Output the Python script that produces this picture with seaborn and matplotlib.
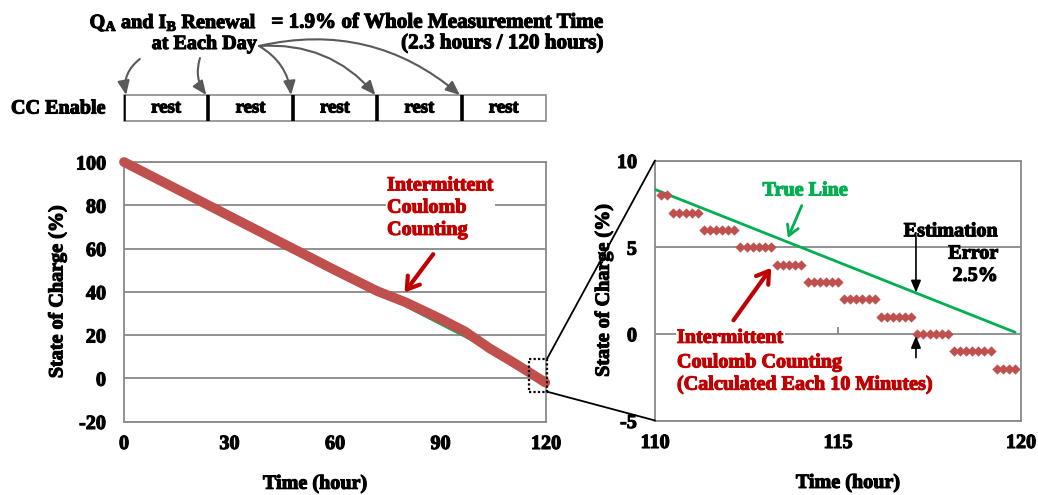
import numpy as np
import pandas as pd
import matplotlib
matplotlib.use("Agg")
import matplotlib.pyplot as plt
import matplotlib.patheffects as pe
import matplotlib.text as mtext
import seaborn as sns
from matplotlib.patches import Rectangle, ConnectionPatch

# ---------------- data ----------------
# whole test (left panel)
true_t = [0, 30, 60, 90, 110, 119.84]
true_soc = [100, 75, 50, 25, 8.33, 0.09]
cc_t = [0, 30, 60, 72, 80, 90, 97, 104, 110, 115, 119.8]
cc_soc = [100, 75, 50, 40.3, 35.2, 27.5, 21.6, 13.8, 8.0, 3.0, -2.0]

# zoomed window (right panel)
zoom_true_t = [110, 119.84]
zoom_true_soc = [8.33, 0.09]
step_levels = [8, 7, 6, 5, 4, 3, 2, 1, 0, -1, -2]
step_counts = [2, 5, 6, 6, 5, 6, 6, 6, 6, 7, 4]
sample_minutes = np.arange(1, 60) * 10          # every 10 minutes after 110 h
zoom_cc_t = 110 + sample_minutes / 60.0
zoom_cc_soc = np.repeat(step_levels, step_counts)

day_starts = [0, 24, 48, 72, 96]
day_labels = ["rest"] * 5

left_xticks = [0, 30, 60, 90, 120]
left_yticks = [-20, 0, 20, 40, 60, 80, 100]
right_xticks = [110, 115, 120]
right_yticks = [-5, 0, 5, 10]

# ---------------- style ----------------
sns.set_theme(style="white")
plt.rcParams["font.family"] = ["Liberation Serif", "DejaVu Serif"]
plt.rcParams["font.weight"] = "bold"
plt.rcParams["axes.unicode_minus"] = False
plt.rcParams["mathtext.fontset"] = "custom"
plt.rcParams["mathtext.rm"] = "Liberation Serif:bold"
plt.rcParams["mathtext.bf"] = "Liberation Serif:bold"
plt.rcParams["mathtext.it"] = "Liberation Serif:bold:italic"
for k in ["text.color", "axes.labelcolor", "xtick.color", "ytick.color"]:
    plt.rcParams[k] = "black"

RED = "#C0504D"
DARKRED = "#C00000"
GREEN = "#00B050"
GRAY = "#898989"
FS = 14.5

W, H = 1038, 495
fig = plt.figure(figsize=(W / 100, H / 100), dpi=100)


def box(x0, y0, x1, y1):
    return [x0 / W, 1 - y1 / H, (x1 - x0) / W, (y1 - y0) / H]


ax1 = fig.add_axes(box(124, 162, 546, 421.5))
ax2 = fig.add_axes(box(655, 160.5, 1021, 420.5))
ax0 = fig.add_axes(box(124, 0, 546, 125))

# ---------------- left panel ----------------
df_true = pd.DataFrame({"t": true_t, "soc": true_soc})
df_cc = pd.DataFrame({"t": cc_t, "soc": cc_soc})
sns.lineplot(data=df_true, x="t", y="soc", ax=ax1, color=GREEN, lw=1.6, zorder=3)
sns.lineplot(data=df_cc, x="t", y="soc", ax=ax1, color=RED, lw=7,
             solid_capstyle="round", zorder=4, clip_on=False)
ax1.set_xlim(0, 120)
ax1.set_ylim(-20, 100)
ax1.set_xticks(left_xticks)
ax1.set_yticks(left_yticks)
ax1.grid(axis="y", color=GRAY, lw=1.3)
ax1.grid(axis="x", visible=False)
ax1.set_axisbelow(True)
for s in ax1.spines.values():
    s.set_color(GRAY)
    s.set_linewidth(1.3)
ax1.tick_params(axis="both", length=0, labelsize=FS)
ax1.tick_params(axis="x", pad=9)
ax1.tick_params(axis="y", pad=13)
for lab in ax1.get_xticklabels() + ax1.get_yticklabels():
    lab.set_fontweight("bold")
ax1.set_xlabel("Time (hour)", fontsize=FS, fontweight="bold", va="center")
ax1.set_ylabel("State of Charge (%)", fontsize=FS, fontweight="bold", va="center")
ax1.xaxis.set_label_coords(0.4526, -0.24)
ax1.yaxis.set_label_coords(-0.158, 0.5)

ax1.annotate("", xy=(79.3, 38.6), xytext=(88.4, 58.4),
             arrowprops=dict(arrowstyle="->,head_length=0.7,head_width=0.45",
                             color=DARKRED, lw=3), zorder=6)
ax1.text(74.8, 93.8, "Intermittent\nCoulomb\nCounting", color=DARKRED,
         fontsize=FS, fontweight="bold", ha="left", va="top", linespacing=1.15,
         bbox=dict(facecolor="white", edgecolor="none", pad=1), zorder=5)

# dotted zoom box
zr = Rectangle((115.2, -6.2), 5.1, 15.2, fill=False, ls=(0, (1, 1)), lw=1.6,
               edgecolor="black", clip_on=False, zorder=7)
ax1.add_patch(zr)

# ---------------- right panel ----------------
df_zt = pd.DataFrame({"t": zoom_true_t, "soc": zoom_true_soc})
df_zc = pd.DataFrame({"t": zoom_cc_t, "soc": zoom_cc_soc})
sns.lineplot(data=df_zt, x="t", y="soc", ax=ax2, color=GREEN, lw=2, zorder=3)
sns.scatterplot(data=df_zc, x="t", y="soc", ax=ax2, marker="D", s=24,
                color=RED, edgecolor=RED, linewidth=0.3, zorder=4)
ax2.set_xlim(110, 120)
ax2.set_ylim(-5, 10)
ax2.set_xticks(right_xticks)
ax2.set_yticks(right_yticks)
ax2.grid(axis="y", color=GRAY, lw=1.3)
ax2.grid(axis="x", visible=False)
ax2.set_axisbelow(True)
for s in ax2.spines.values():
    s.set_color(GRAY)
    s.set_linewidth(1.3)
ax2.tick_params(axis="both", length=0, labelsize=FS)
ax2.tick_params(axis="x", pad=9)
ax2.tick_params(axis="y", pad=13)
for lab in ax2.get_xticklabels() + ax2.get_yticklabels():
    lab.set_fontweight("bold")
ax2.set_xlabel("Time (hour)", fontsize=FS, fontweight="bold", va="center")
ax2.set_ylabel("State of Charge (%)", fontsize=FS, fontweight="bold", va="center")
ax2.xaxis.set_label_coords(0.527, -0.24)
ax2.yaxis.set_label_coords(-0.14, 0.5)

# small tick mark where the time axis crosses at 0
sec = ax2.secondary_xaxis(1 / 3)
sec.set_xticks([115])
sec.tick_params(direction="in", length=5, width=1.3, color=GRAY, labelbottom=False,
                labeltop=False)
sec.spines["bottom"].set_visible(False)
sec.spines["top"].set_visible(False)

ax2.text(114.1, 8.27, "True Line", color=GREEN, fontsize=FS, fontweight="bold",
         ha="center", va="center", zorder=6)
ax2.annotate("", xy=(113.6, 5.38), xytext=(114.04, 7.55),
             arrowprops=dict(arrowstyle="->,head_length=0.6,head_width=0.35",
                             color=GREEN, lw=2), zorder=6)
ax2.text(119.37, 4.63, "Estimation\nError\n2.5%", color="black", fontsize=FS,
         fontweight="bold", ha="right", va="center", multialignment="right",
         linespacing=1.15, zorder=6)
ax2.annotate("", xy=(117.13, 2.38), xytext=(117.13, 5.6),
             arrowprops=dict(arrowstyle="-|>,head_length=0.6,head_width=0.25",
                             color="black", lw=1.2, shrinkA=0, shrinkB=0), zorder=6)
ax2.annotate("", xy=(117.13, -0.12), xytext=(117.13, -1.37),
             arrowprops=dict(arrowstyle="-|>,head_length=0.6,head_width=0.25",
                             color="black", lw=1.2, shrinkA=0, shrinkB=0), zorder=6)
ax2.annotate("", xy=(113.22, 3.94), xytext=(112.1, 0.65),
             arrowprops=dict(arrowstyle="->,head_length=0.7,head_width=0.45",
                             color=DARKRED, lw=3), zorder=6)
ax2.text(110.6, -0.23, "Intermittent", color=DARKRED, fontsize=FS,
         fontweight="bold", ha="left", va="center",
         bbox=dict(facecolor="white", edgecolor="none", pad=1), zorder=5)
ax2.text(110.6, -2.29, "Coulomb Counting\n(Calculated Each 10 Minutes)",
         color=DARKRED, fontsize=FS, fontweight="bold", ha="left", va="center",
         linespacing=1.15, zorder=5)

# connector lines between panels
for (ya, yb) in [(9.0, 10), (-6.2, -5)]:
    cp = ConnectionPatch(xyA=(120.3, ya), coordsA=ax1.transData,
                         xyB=(110, yb), coordsB=ax2.transData,
                         color="black", lw=1.3, zorder=8)
    fig.add_artist(cp)

# ---------------- top schedule strip ----------------
ax0.set_xlim(0, 120)
ax0.set_ylim(125, 0)
ax0.axis("off")
ax0.add_patch(Rectangle((0, 95), 120, 26, facecolor="white", edgecolor=GRAY,
                        lw=1.2, clip_on=False))
ax0.vlines(day_starts, 95, 121, color="black", lw=2.6)
for d, lab in zip(day_starts, day_labels):
    ax0.text(d + 12, 108, lab, ha="center", va="center", fontsize=13.5,
             fontweight="bold")
ax0.text(-5.2, 108.5, "CC Enable", ha="right", va="center", fontsize=FS,
         fontweight="bold", clip_on=False)
ax0.text(37.8, 33, r"$\mathrm{Q}_\mathrm{A}$ and $\mathrm{I}_\mathrm{B}$ Renewal" + "\nat Each Day",
         ha="right", va="center", multialignment="right", fontsize=FS,
         fontweight="bold", linespacing=1.05, clip_on=False)
ax0.text(136.2, 33, "= 1.9% of Whole Measurement Time\n(2.3 hours / 120 hours)",
         ha="right", va="center", multialignment="right", fontsize=15.2,
         fontweight="bold", linespacing=1.05, clip_on=False)

ARC = dict(arrowstyle="-|>,head_length=0.7,head_width=0.3", color="#595959",
           lw=1.5, shrinkA=0, shrinkB=0)
ax0.annotate("", xy=(0.6, 95), xytext=(4.5, 59),
             arrowprops=dict(connectionstyle="arc3,rad=0.3", **ARC))
ax0.annotate("", xy=(23.4, 95), xytext=(21.6, 58),
             arrowprops=dict(connectionstyle="arc3,rad=0.25", **ARC))
for d in day_starts[2:]:
    ax0.annotate("", xy=(d - 0.5, 95), xytext=(38.4, 46),
                 arrowprops=dict(connectionstyle="arc3,rad=-0.25", **ARC))

# heavier strokes for all text, like the reference's bold Times rendering
for t in fig.findobj(mtext.Text):
    if t.get_text():
        t.set_path_effects([pe.withStroke(linewidth=0.8)])

fig.savefig("out.png", dpi=100)
